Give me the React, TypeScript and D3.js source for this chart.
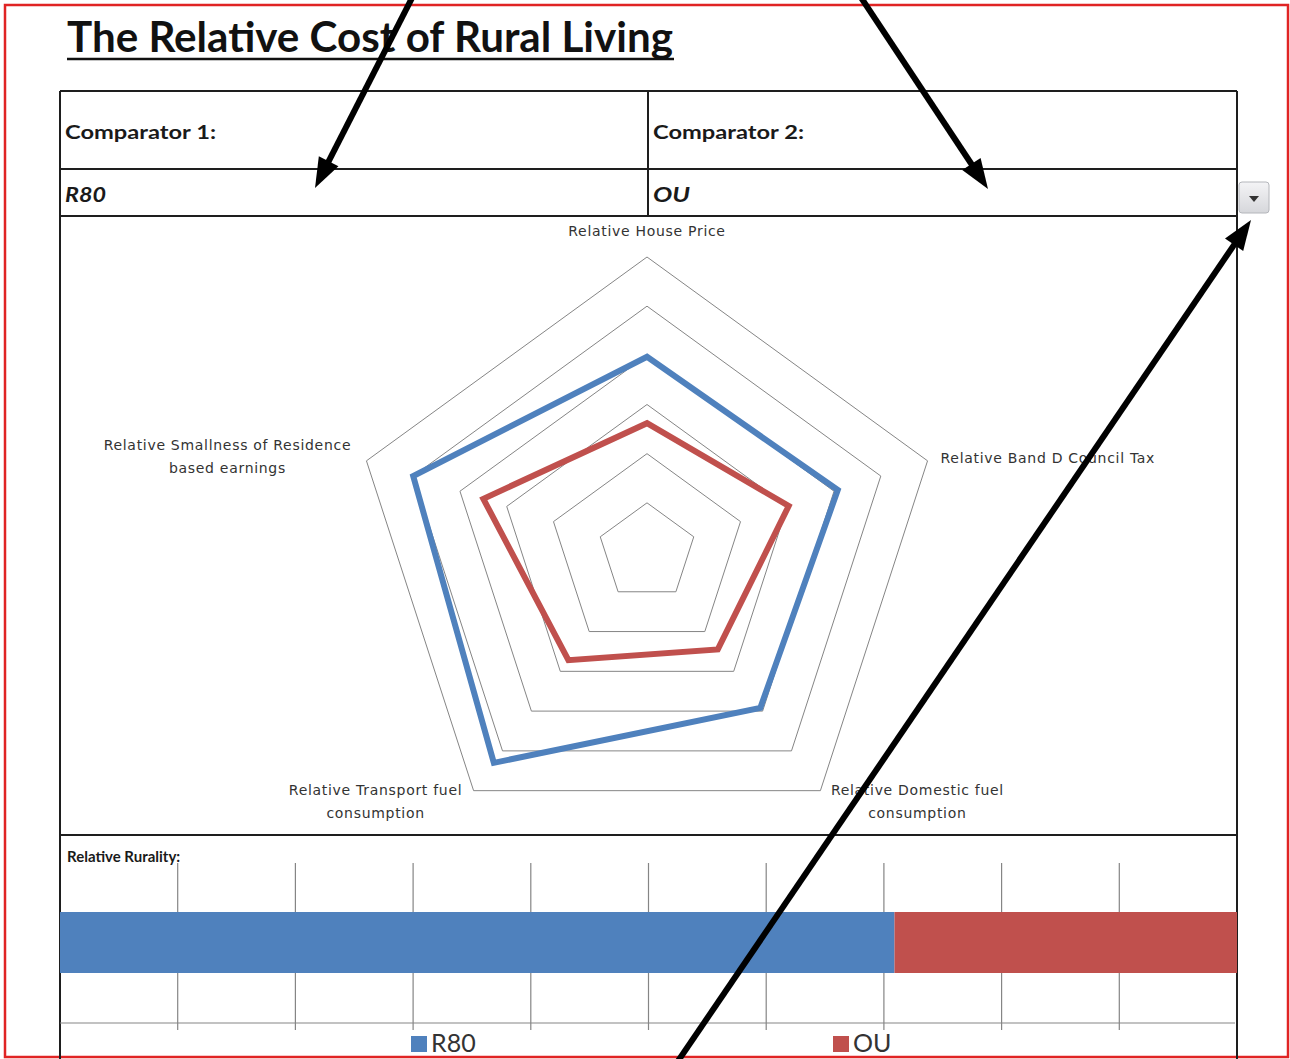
import * as d3 from 'd3';

// radar categories (one entry per spoke, split into the lines Excel wrapped them into)
const axisLabels = [
  ['Relative House Price'],
  ['Relative Band D Council  Tax'],
  ['Relative Domestic fuel', 'consumption'],
  ['Relative Transport fuel', 'consumption'],
  ['Relative Smallness of Residence', 'based earnings'],
];

// series values (ring units)
const r80Values = [3.97, 4.08, 3.92, 5.3, 5.0];
const ouValues = [2.62, 3.03, 2.45, 2.72, 3.5];
const ringLevels = [1, 2, 3, 4, 5, 6];

// stacked 100% rurality bar
const seriesNames = ['R80', 'OU'];
const ruralityValues = [70.9, 29.1];
const ruralityTicks = [10, 20, 30, 40, 50, 60, 70, 80, 90];

const BLUE = '#4F81BD';
const RED = '#C0504D';
const GRID = '#858585';
const LINE = '#1e1e1e';

// draws a thick black annotation arrow
function Arrow({ x1, y1, x2, y2 }) {
  const dx = x2 - x1;
  const dy = y2 - y1;
  const len = Math.hypot(dx, dy);
  const ux = dx / len;
  const uy = dy / len;
  const head = 30;
  const half = 11;
  const bx = x2 - ux * head;
  const by = y2 - uy * head;
  const pts = [
    [x2, y2],
    [bx - uy * half, by + ux * half],
    [bx + uy * half, by - ux * half],
  ];
  return (
    <g>
      <line x1={x1} y1={y1} x2={x2 - ux * head * 0.7} y2={y2 - uy * head * 0.7} stroke="#000" strokeWidth={6} />
      <polygon points={pts.map(p => p.join(',')).join(' ')} fill="#000" />
    </g>
  );
}

export default function App() {
  const width = 1290;
  const height = 1059;

  // table geometry
  const tLeft = 60;
  const tRight = 1237;
  const tMid = 648;

  // radar
  const cx = 647;
  const cy = 552;
  const rScale = d3.scaleLinear().domain([0, 6]).range([0, 295]);
  const n = axisLabels.length;
  const angle = i => (i * 2 * Math.PI) / n;

  const radial = d3
    .lineRadial()
    .angle((d, i) => angle(i))
    .radius(d => rScale(d))
    .curve(d3.curveLinearClosed);

  const vertex = (i, v) => {
    const a = angle(i);
    return [cx + rScale(v) * Math.sin(a), cy - rScale(v) * Math.cos(a)];
  };

  // label offsets relative to outer ring vertex
  const labelPos = [
    { dx: 0, dy: -21, anchor: 'middle' },
    { dx: 13, dy: 2, anchor: 'start' },
    { dx: 97, dy: 4, anchor: 'middle' },
    { dx: -98, dy: 4, anchor: 'middle' },
    { dx: -139, dy: -11, anchor: 'middle' },
  ];

  // rurality bar
  const xBar = d3.scaleLinear().domain([0, 100]).range([tLeft, tRight]);
  const stacked = ruralityValues.map((v, i) => {
    const start = d3.sum(ruralityValues.slice(0, i));
    return { name: seriesNames[i], x0: start, x1: start + v };
  });
  const barTop = 912;
  const barH = 61;
  const axisY = 1023;

  return (
    <div style={{ position: 'absolute', left: 0, top: 0 }}>
      <svg width={width} height={height} style={{ display: 'block', background: '#fff' }}>
        {/* red frame */}
        <rect x={5} y={5} width={1283} height={1052} fill="none" stroke="#e02424" strokeWidth={2.5} />

        {/* title */}
        <text
          x={67}
          y={52}
          fontFamily="Lato, 'Open Sans', sans-serif"
          fontWeight={700}
          fontSize={42}
          textLength={606}
          lengthAdjust="spacingAndGlyphs"
          fill="#111"
        >
          The Relative Cost of Rural Living
        </text>
        <line x1={67} x2={674} y1={59} y2={59} stroke="#111" strokeWidth={2.5} />

        {/* comparator table */}
        <g stroke={LINE} strokeWidth={2} fill="none">
          <line x1={tLeft} x2={tRight} y1={91} y2={91} />
          <line x1={tLeft} x2={tRight} y1={169} y2={169} />
          <line x1={tLeft} x2={tRight} y1={216} y2={216} />
          <line x1={tLeft} x2={tRight} y1={835} y2={835} />
          <line x1={tLeft} x2={tLeft} y1={91} y2={1060} />
          <line x1={tRight} x2={tRight} y1={91} y2={1060} />
          <line x1={tMid} x2={tMid} y1={91} y2={216} />
        </g>
        <g fontFamily="Lato, 'Open Sans', sans-serif" fontWeight={700} fill="#1a1a1a">
          <text x={65} y={139} fontSize={19} textLength={151} lengthAdjust="spacingAndGlyphs">Comparator 1:</text>
          <text x={653} y={139} fontSize={19} textLength={151} lengthAdjust="spacingAndGlyphs">Comparator 2:</text>
          <text x={65} y={202} fontSize={21} fontStyle="italic" textLength={41} lengthAdjust="spacingAndGlyphs">{seriesNames[0]}</text>
          <text x={653} y={202} fontSize={21} fontStyle="italic" textLength={37} lengthAdjust="spacingAndGlyphs">{seriesNames[1]}</text>
        </g>

        {/* dropdown button */}
        <defs>
          <linearGradient id="btn" x1="0" x2="0" y1="0" y2="1">
            <stop offset="0" stopColor="#f4f4f6" />
            <stop offset="1" stopColor="#d6d7db" />
          </linearGradient>
        </defs>
        <rect x={1239} y={182} width={30} height={31} rx={3} fill="url(#btn)" stroke="#b4b6bb" />
        <polygon points="1249,196 1259,196 1254,202" fill="#333" />

        {/* radar grid rings */}
        <g fill="none" stroke={GRID} strokeWidth={1}>
          {ringLevels.map(l => (
            <path key={l} d={radial(d3.range(n).map(() => l))} transform={`translate(${cx},${cy})`} />
          ))}
        </g>

        {/* radar series */}
        <g fill="none" strokeWidth={6} strokeLinejoin="miter">
          <path d={radial(r80Values)} stroke={BLUE} transform={`translate(${cx},${cy})`} />
          <path d={radial(ouValues)} stroke={RED} transform={`translate(${cx},${cy})`} />
        </g>

        {/* radar axis labels */}
        <g fontFamily="'DejaVu Sans', Verdana, sans-serif" fontSize={14} letterSpacing={0.7} fill="#333">
          {axisLabels.map((lines, i) => {
            const [vx, vy] = vertex(i, 6);
            const p = labelPos[i];
            return (
              <text key={i} x={vx + p.dx} y={vy + p.dy} textAnchor={p.anchor}>
                {lines.map((ln, j) => (
                  <tspan key={j} x={vx + p.dx} dy={j === 0 ? 0 : 23}>
                    {ln}
                  </tspan>
                ))}
              </text>
            );
          })}
        </g>

        {/* rurality section */}
        <text x={67} y={862} fontFamily="Lato, 'Open Sans', sans-serif" fontWeight={700} fontSize={15} fill="#1a1a1a">
          Relative Rurality:
        </text>
        <g stroke={GRID} strokeWidth={1.2}>
          {ruralityTicks.map(t => (
            <line key={t} x1={xBar(t)} x2={xBar(t)} y1={863} y2={1030} />
          ))}
          <line x1={tLeft} x2={tRight - 2} y1={axisY} y2={axisY} />
        </g>
        {stacked.map((s, i) => (
          <rect
            key={s.name}
            x={xBar(s.x0)}
            y={barTop}
            width={xBar(s.x1) - xBar(s.x0)}
            height={barH}
            fill={i === 0 ? BLUE : RED}
          />
        ))}

        {/* legend */}
        <g fontFamily="Lato, 'Open Sans', sans-serif" fontSize={25} fill="#333">
          <rect x={411} y={1036} width={16} height={16} fill={BLUE} />
          <text x={431} y={1052}>{seriesNames[0]}</text>
          <rect x={833} y={1036} width={16} height={16} fill={RED} />
          <text x={853} y={1052}>{seriesNames[1]}</text>
        </g>

        {/* annotation arrows */}
        <Arrow x1={413} y1={-4} x2={315} y2={188} />
        <Arrow x1={860} y1={-4} x2={988} y2={189} />
        <Arrow x1={676} y1={1064} x2={1251} y2={220} />
      </svg>
    </div>
  );
}
